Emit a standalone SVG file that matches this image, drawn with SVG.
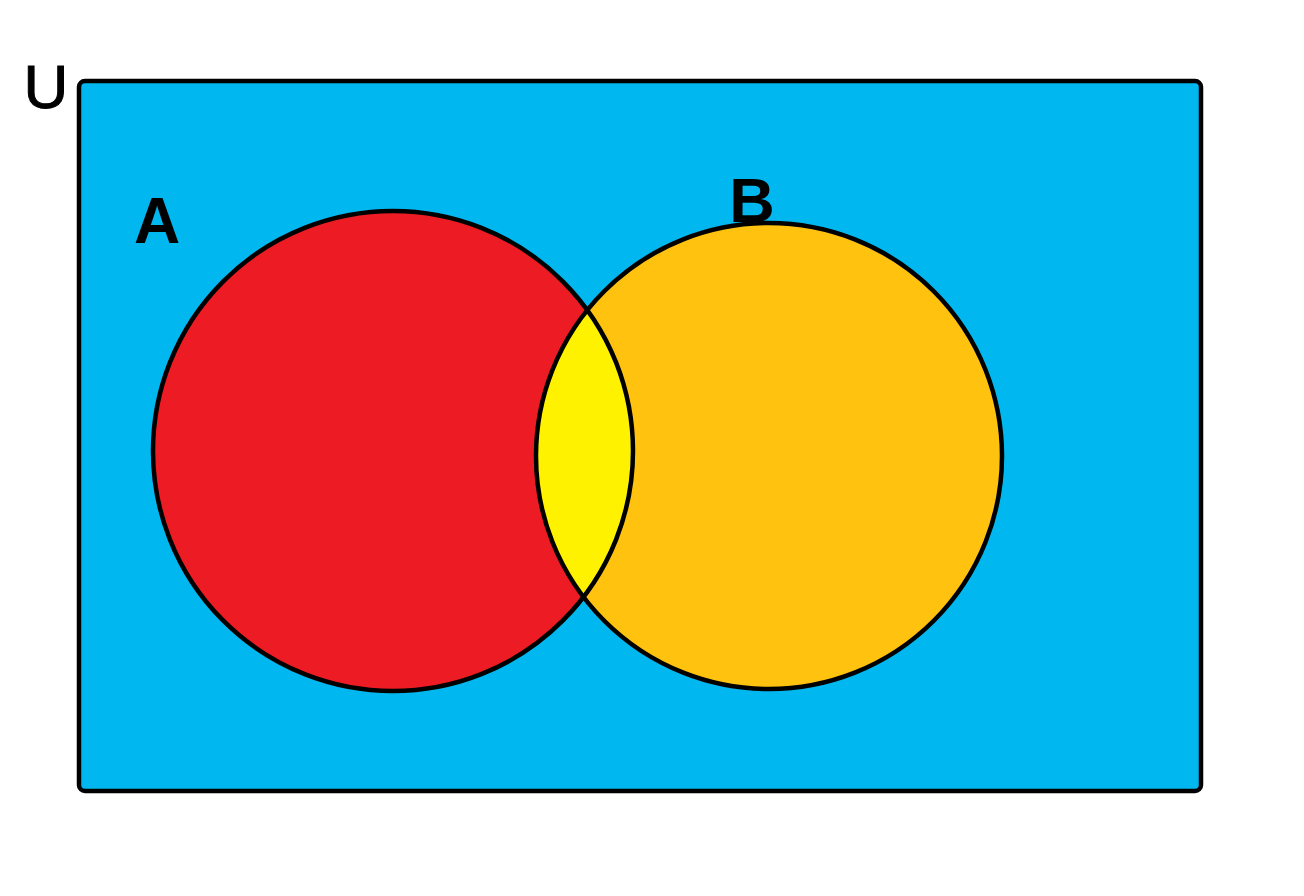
<svg xmlns="http://www.w3.org/2000/svg" width="1304" height="896" viewBox="0 0 1304 896">
<style>
.lbl{font-family:"Liberation Sans",Arial,sans-serif;fill:#000;text-anchor:middle}
.edge{fill:none;stroke:#000;stroke-width:4.5}
</style>
<defs>
<clipPath id="clipA"><circle cx="393" cy="451" r="240"/></clipPath>
</defs>
<rect width="1304" height="896" fill="#fff"/>
<g id="universe">
<rect x="79" y="81" width="1122" height="710" rx="6" fill="#00B7EF" stroke="#000" stroke-width="4.5"/>
<text class="lbl" x="46" y="108" font-size="62" stroke="#000" stroke-width="1">U</text>
</g>
<g id="setA">
<circle cx="393" cy="451" r="240" fill="#ED1C24"/>
</g>
<g id="setB">
<circle cx="769" cy="456" r="233" fill="#FFC20E"/>
</g>
<g id="intersection">
<circle cx="769" cy="456" r="233" fill="#FFF200" clip-path="url(#clipA)"/>
</g>
<g id="outlines">
<circle class="edge" cx="393" cy="451" r="240"/>
<circle class="edge" cx="769" cy="456" r="233"/>
</g>
<g id="labels">
<text class="lbl" x="157" y="243" font-size="64" font-weight="bold">A</text>
<text class="lbl" x="752" y="222" font-size="63" font-weight="bold">B</text>
</g>
</svg>
